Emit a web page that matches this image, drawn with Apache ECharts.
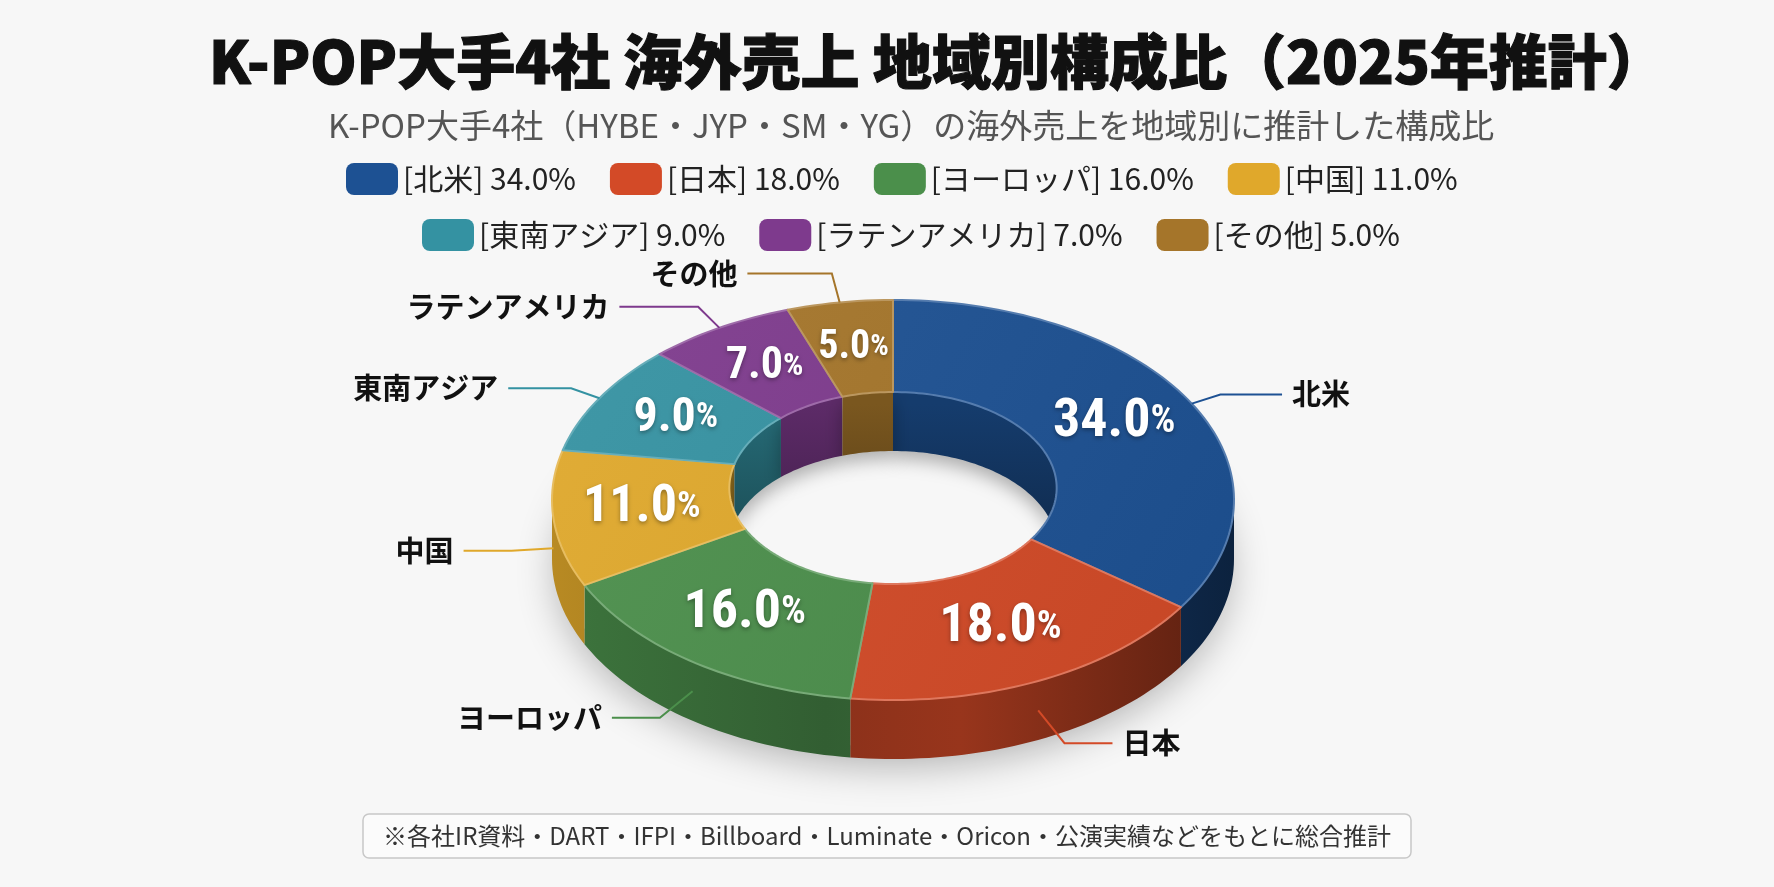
<!DOCTYPE html>
<html>
<head>
<meta charset="utf-8">
<title>K-POP大手4社 海外売上 地域別構成比</title>
<script src="https://cdn.jsdelivr.net/npm/echarts@6/dist/echarts.min.js"></script>
<style>
html, body { margin: 0; padding: 0; background: #f7f7f7; }
#main { width: 1774px; height: 887px; }
</style>
</head>
<body>
<div id="main"></div>
<script>
// 地域別の構成比（2025年推計）
var regions = ['北米', '日本', 'ヨーロッパ', '中国', '東南アジア', 'ラテンアメリカ', 'その他'];
var shares = [34.0, 18.0, 16.0, 11.0, 9.0, 7.0, 5.0];
var colors = ['#1d5193', '#d34a27', '#4b8f4b', '#e0a82b', '#3492a2', '#7e3a8d', '#a5752a'];
var legendRow1 = regions.slice(0, 4);
var legendRow2 = regions.slice(4);

var FONT = '"Noto Sans CJK JP", "Noto Sans", sans-serif';
var NUM_FONT = '"Roboto Condensed", "DejaVu Sans Condensed", Roboto, sans-serif';

var chart = echarts.init(document.getElementById('main'));

// 斜めから見たドーナツの形
var CX = 893, CY = 500, RX = 341, RY = 200, DEPTH = 59, INNER = 0.48, INNER_DY = -12;

var total = shares.reduce(function (a, b) { return a + b; }, 0);
var starts = [];
var acc = 0;
shares.forEach(function (v) {
    starts.push(acc / total * Math.PI * 2);
    acc += v;
});

// 色を暗くする（lift は明るくしかならないので）
function shade(c, f) {
    var rgb = echarts.color.parse(c);
    return 'rgb(' + Math.round(rgb[0] * f) + ',' + Math.round(rgb[1] * f) + ',' + Math.round(rgb[2] * f) + ')';
}

// t は12時の位置から時計回り
function outerPt(t, dy) {
    return [CX + RX * Math.sin(t), CY - RY * Math.cos(t) + (dy || 0)];
}
function innerPt(t, dy) {
    return [CX + RX * INNER * Math.sin(t), CY + INNER_DY - RY * INNER * Math.cos(t) + (dy || 0)];
}
function arcPts(fn, a, b, dy) {
    var n = Math.max(2, Math.ceil((b - a) / (Math.PI / 120)));
    var pts = [];
    for (var j = 0; j <= n; j++) {
        pts.push(fn(a + (b - a) * j / n, dy));
    }
    return pts;
}
function wall(fn, a, b) {
    return arcPts(fn, a, b, 0).concat(arcPts(fn, a, b, DEPTH).reverse());
}

function renderSlice(i) {
    var t0 = starts[i];
    var t1 = t0 + shares[i] / total * Math.PI * 2;
    var c = colors[i];
    var kids = [];

    // 外側の側面（手前半分）
    var a = Math.max(t0, Math.PI / 2), b = Math.min(t1, Math.PI * 1.5);
    if (a < b) {
        kids.push({
            type: 'polygon', z2: 1,
            shape: { points: wall(outerPt, a, b) },
            style: {
                fill: new echarts.graphic.LinearGradient(CX - RX, 0, CX + RX, 0, [
                    { offset: 0, color: shade(c, 0.82) },
                    { offset: 0.4, color: shade(c, 0.66) },
                    { offset: 0.6, color: shade(c, 0.72) },
                    { offset: 1, color: shade(c, 0.42) }
                ], true)
            }
        });
    }
    // 穴の内側の側面（奥半分）
    [[0, Math.PI / 2], [Math.PI * 1.5, Math.PI * 2]].forEach(function (r) {
        var a = Math.max(t0, r[0]), b = Math.min(t1, r[1]);
        if (a < b) {
            kids.push({
                type: 'polygon', z2: 1,
                shape: { points: wall(innerPt, a, b) },
                style: {
                    fill: new echarts.graphic.LinearGradient(0, CY - RY * INNER, 0, CY + DEPTH, [
                        { offset: 0, color: shade(c, 0.74) },
                        { offset: 1, color: shade(c, 0.5) }
                    ], true),
                    shadowBlur: 18,
                    shadowOffsetY: 8,
                    shadowColor: 'rgba(0,0,0,0.3)'
                }
            });
        }
    });
    // 上面（左上から少し光が当たる）
    var top = arcPts(outerPt, t0, t1, 0).concat(arcPts(innerPt, t0, t1, 0).reverse());
    kids.push({
        type: 'polygon', z2: 5,
        shape: { points: top },
        style: {
            fill: new echarts.graphic.LinearGradient(CX - RX, CY - RY, CX + RX, CY + RY, [
                { offset: 0, color: echarts.color.lift(c, 0.06) },
                { offset: 1, color: shade(c, 0.94) }
            ], true),
            stroke: echarts.color.lift(c, 0.25),
            lineWidth: 2,
            lineJoin: 'round'
        }
    });

    // 中のパーセント表示
    var tm = (t0 + t1) / 2;
    var po = outerPt(tm), pi = innerPt(tm);
    var fs = Math.min(54, 30 + shares[i] * 2);
    var shadowText = { textShadowColor: 'rgba(0,0,0,0.35)', textShadowBlur: 4, textShadowOffsetY: 2 };
    kids.push({
        type: 'text', z2: 10,
        style: {
            x: (po[0] + pi[0]) / 2,
            y: (po[1] + pi[1]) / 2,
            text: '{n|' + shares[i].toFixed(1) + '}{p|%}',
            align: 'center',
            verticalAlign: 'middle',
            rich: {
                n: Object.assign({ fontSize: fs, fontWeight: 'bold', fontFamily: NUM_FONT, fill: '#fff' }, shadowText),
                p: Object.assign({ fontSize: Math.round(fs * 0.72), fontWeight: 'bold', fontFamily: NUM_FONT, fill: '#fff' }, shadowText)
            }
        }
    });

    // 外側のラベルと引き出し線
    var front = Math.cos(tm) < 0;
    var anchor = outerPt(tm, front ? DEPTH * 0.5 : 0);
    var dx = RX * Math.sin(tm), dy = -RY * Math.cos(tm);
    var len = Math.sqrt(dx * dx + dy * dy);
    var elbowLen = front ? 42 : 30;
    var elbow = [anchor[0] + dx / len * elbowLen, anchor[1] + dy / len * elbowLen];
    var side = Math.sin(tm) >= 0 ? 1 : -1;
    var run = front ? 48 : 40 + 45 * Math.cos(tm);
    var end = [elbow[0] + side * run, elbow[1]];
    kids.push({
        type: 'polyline', z2: 10,
        shape: { points: [anchor, elbow, end] },
        style: { stroke: c, lineWidth: 2, fill: null }
    });
    kids.push({
        type: 'text', z2: 10,
        style: {
            x: end[0] + side * 10,
            y: end[1],
            text: regions[i],
            align: side > 0 ? 'left' : 'right',
            verticalAlign: 'middle',
            fontSize: 29,
            fontWeight: 'bold',
            fontFamily: FONT,
            fill: '#111'
        }
    });
    return { type: 'group', children: kids };
}

var series = regions.map(function (name, i) {
    return {
        type: 'custom',
        name: name,
        coordinateSystem: 'none',
        itemStyle: { color: colors[i] },
        data: [shares[i]],
        renderItem: function () { return renderSlice(i); }
    };
});

function legendText(name) {
    var i = regions.indexOf(name);
    return '[' + name + '] ' + shares[i].toFixed(1) + '%';
}
var legendBase = {
    icon: 'roundRect',
    itemWidth: 52,
    itemHeight: 32,
    itemGap: 34,
    selectedMode: false,
    formatter: legendText,
    textStyle: { fontSize: 30, color: '#222', fontFamily: FONT }
};

var option = {
    backgroundColor: '#f7f7f7',
    title: [{
        text: 'K-POP大手4社 海外売上 地域別構成比（2025年推計）',
        left: 204,
        top: 27,
        textStyle: {
            fontSize: 59, fontWeight: 900, color: '#111', fontFamily: FONT,
            textBorderColor: '#111', textBorderWidth: 1.2
        }
    }, {
        text: 'K-POP大手4社（HYBE・JYP・SM・YG）の海外売上を地域別に推計した構成比',
        left: 323,
        top: 104,
        textStyle: { fontSize: 33, fontWeight: 'normal', color: '#555', fontFamily: FONT }
    }, {
        text: '※各社IR資料・DART・IFPI・Billboard・Luminate・Oricon・公演実績などをもとに総合推計',
        left: 'center',
        top: 814,
        padding: [10, 20],
        borderWidth: 1.5,
        borderColor: '#c8c8c8',
        borderRadius: 6,
        backgroundColor: '#fbfbfb',
        textStyle: { fontSize: 24, fontWeight: 'normal', color: '#333', fontFamily: FONT }
    }],
    legend: [
        Object.assign({}, legendBase, { left: 341, top: 158, data: legendRow1 }),
        Object.assign({}, legendBase, { left: 417, top: 214, data: legendRow2 })
    ],
    graphic: [{
        // ドーナツの下の影
        type: 'ellipse',
        z: 1,
        shape: { cx: CX, cy: CY + DEPTH - 6, rx: RX - 6, ry: RY - 6 },
        style: { fill: '#f7f7f7', shadowBlur: 40, shadowOffsetY: 18, shadowColor: 'rgba(0,0,0,0.3)' }
    }],
    series: series
};

chart.setOption(option);
</script>
</body>
</html>
